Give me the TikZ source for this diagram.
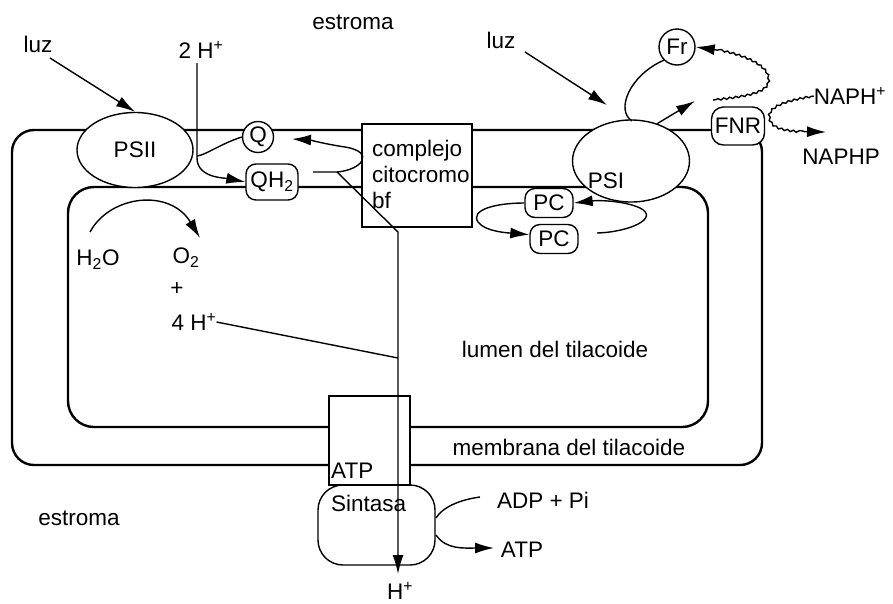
\documentclass[tikz,border=0pt]{standalone}
\usepackage{fontspec}
\setmainfont{Liberation Sans}
\usetikzlibrary{shapes.geometric,arrows.meta,decorations.pathmorphing}
\begin{document}
\begin{tikzpicture}[x=1pt,y=-1pt,
  font=\fontsize{22.5}{26}\selectfont,
  mem/.style={line width=2.4pt},
  ln/.style={line width=1.4pt},
  arr/.style={ln,-{Latex[length=19pt,width=11pt]}},
  ell/.style={ellipse,draw,fill=white,line width=1.4pt,inner sep=0pt},
  rbox/.style={draw,fill=white,line width=1.4pt,rounded corners=10pt,inner sep=1.5pt},
  cbox/.style={circle,draw,fill=white,line width=1.4pt,inner sep=0pt},
  sbox/.style={draw,fill=white,line width=1.4pt,inner sep=0pt},
  txt/.style={inner sep=0pt},
  wig/.style={decorate,decoration={snake,amplitude=0.9pt,segment length=6pt,pre length=3pt,post length=19pt}}
]
\useasboundingbox (0,0) rectangle (893,603);
\fill[white] (0,0) rectangle (893,603);

% membranes
\draw[mem,rounded corners=22pt] (700,130) -- (12,130) -- (12,465) -- (762,465) -- (762,130) -- (700,130);
\draw[mem,rounded corners=26pt] (68,187) rectangle (708,427);

% protein complexes
\node[ell,minimum width=116,minimum height=75] (psii) at (135,150) {PSII};
\node[ell,minimum width=117,minimum height=82] (psi) at (631,161) {};
\node[txt] (psil) at (606,181) {PSI};
\node[cbox,minimum size=31] (q) at (258,137) {Q};
\node[rbox,minimum width=52,minimum height=36] (qh2) at (272,182) {QH\textsubscript{2}};
\node[sbox,minimum width=110,minimum height=103] (cx) at (417,175.5) {};
\node[txt,anchor=west,align=left] (cxl) at (372,174) {complejo\\citocromo\\bf};
\node[rbox,minimum width=48,minimum height=29] (pc1) at (549,203) {PC};
\node[rbox,minimum width=48,minimum height=29] (pc2) at (554,239) {PC};
\node[cbox,minimum size=36] (fr) at (677,47) {Fr};
\node[rbox,minimum width=53,minimum height=38,rounded corners=12pt] (fnr) at (738,126) {FNR};
\node[draw,fill=white,line width=1.4pt,rounded corners=25pt,minimum width=117,minimum height=80,inner sep=0pt] (atps) at (376.5,525) {};
\node[sbox,minimum width=81,minimum height=89] (atpr) at (369.5,440.5) {};
\node[txt,anchor=west] (atpl) at (331,471) {ATP};
\node[txt,anchor=west] (sint) at (331,503) {Sintasa};

% labels
\node[txt] (estt) at (353,22) {estroma};
\node[txt] (estb) at (79,518) {estroma};
\node[txt] (luz1) at (38,44) {luz};
\node[txt] (luz2) at (501,40) {luz};
\node[txt] (h2p) at (201,50) {2 H\textsuperscript{+}};
\node[txt] (h2o) at (98,260) {H\textsubscript{2}O};
\node[txt] (o2) at (186,258) {O\textsubscript{2}};
\node[txt] (plus) at (177,289) {+};
\node[txt] (h4) at (194,322) {4 H\textsuperscript{+}};
\node[txt] (lum) at (555,349) {lumen del tilacoide};
\node[txt] (memb) at (569,447) {membrana del tilacoide};
\node[txt] (adp) at (543,500) {ADP + Pi};
\node[txt] (atpo) at (522,550) {ATP};
\node[txt] (naph) at (850,96) {NAPH\textsuperscript{+}};
\node[txt] (naphp) at (841,157) {NAPHP};
\node[txt] (hb) at (400,591) {H\textsuperscript{+}};

% free ends
\coordinate (l1s) at (50,58);
\coordinate (l2s) at (525,52);
\coordinate (l2e) at (607,105);
\coordinate (hv) at (197,63);
\coordinate (hvb) at (197,158);
\coordinate (qv) at (197,156);
\coordinate (c1) at (313,172);
\coordinate (c2) at (337,172);
\coordinate (cq) at (292,139);
\coordinate (d1) at (398,232);
\coordinate (j4) at (398,358);
\coordinate (hbt) at (398,574);
\coordinate (ws) at (90,232);
\coordinate (we) at (200,238);
\coordinate (as) at (480,497);
\coordinate (ae) at (436,518);
\coordinate (bs) at (436,535);
\coordinate (be) at (494,548);
\coordinate (frp) at (632,121);
\coordinate (psa) at (695,101);
\coordinate (fws) at (713,100);
\coordinate (pcs) at (597,233);
\coordinate (npe) at (826,132);

% connectors
\draw[arr] (l1s) -- (psii.north);
\draw[arr] (l2s) -- (l2e);
\draw[arr] (hv) -- (hvb) .. controls (197,178) and (225,178) .. (qh2.west);
\draw[ln] (q.west) .. controls (220,144) and (206,155) .. (qv);
\draw[arr] (c1) -- (c2) .. controls (362,170) and (376,152) .. (345,147) .. controls (325,144) and (310,140) .. (cq);
\draw[arr] (c2) -- (d1) -- (hbt);
\draw[ln] (h4.east) -- (j4);
\draw[arr] (ws) .. controls (110,195) and (170,188) .. (we);
\draw[ln] (as) .. controls (458,500) and (442,508) .. (ae);
\draw[arr] (bs) .. controls (446,550) and (465,548) .. (be);
\draw[ln] (fr.225) .. controls (630,75) and (615,110) .. (frp);
\draw[arr] (psi.55) -- (psa);
\draw[arr,wig] (fws) .. controls (750,96) and (775,92) .. (765,72) .. controls (755,58) and (725,50) .. (fr.east);
\draw[arr,wig] (naph.west) .. controls (790,100) and (768,106) .. (771,118) .. controls (773,130) and (790,132) .. (npe);
\draw[arr] (pcs) .. controls (630,232) and (660,218) .. (640,208) .. controls (625,201) and (600,200) .. (pc1.east);
\draw[arr] (pc1.west) .. controls (495,203) and (470,210) .. (478,222) .. controls (485,232) and (510,233) .. (pc2.170);
\end{tikzpicture}
\end{document}
